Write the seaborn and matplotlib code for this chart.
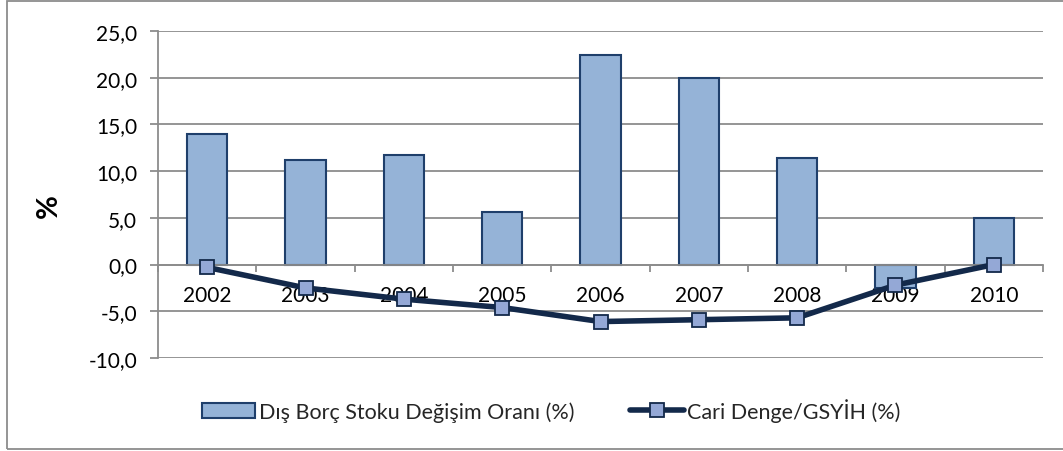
import matplotlib
matplotlib.use("Agg")
import matplotlib.pyplot as plt
import seaborn as sns
import pandas as pd
from matplotlib.patches import Rectangle
from matplotlib.ticker import FixedLocator, FuncFormatter

# ---- data ----
years = ["2002", "2003", "2004", "2005", "2006", "2007", "2008", "2009", "2010"]
debt_change = [14.0, 11.2, 11.7, 5.6, 22.4, 20.0, 11.4, -2.5, 5.0]
current_account = [-0.3, -2.5, -3.7, -4.6, -6.1, -5.9, -5.7, -2.2, 0.0]
y_ticks = [-10, -5, 0, 5, 10, 15, 20, 25]
bar_label = "Dış Borç Stoku Değişim Oranı (%)"
line_label = "Cari Denge/GSYİH (%)"
y_title = "%"

# ---- style ----
bar_fill = "#95B3D7"
bar_edge = "#1F3F6B"
line_color = "#13294A"
marker_fill = "#94A8D6"
grid_color = "#8C8C8C"
fs = 15

sns.set_theme(style="white")
plt.rcParams['font.family'] = ['Lato', 'DejaVu Sans']

W, H = 1063, 452
fig = plt.figure(figsize=(W / 100, H / 100), dpi=100)
ax_l, ax_r, ax_t, ax_b = 158, 1043, 32, 359
ax = fig.add_axes([ax_l / W, 1 - ax_b / H, (ax_r - ax_l) / W, (ax_b - ax_t) / H])

df = pd.DataFrame({"year": years, "debt": debt_change, "ca": current_account})

sns.barplot(data=df, x="year", y="debt", order=years, color=bar_fill,
            saturation=1, width=0.41, edgecolor=bar_edge, linewidth=1.5,
            ax=ax, zorder=2)
sns.pointplot(data=df, x="year", y="ca", order=years, color=line_color,
              markers="s", linestyles="-", errorbar=None, ax=ax,
              linewidth=4, markersize=10, markerfacecolor=marker_fill,
              markeredgecolor=line_color, markeredgewidth=1.3, zorder=4)

ax.set_ylim(-10, 25)
ax.set_xlim(-0.5, len(years) - 0.5)
ax.yaxis.set_major_locator(FixedLocator(y_ticks))
ax.yaxis.set_major_formatter(FuncFormatter(lambda v, p: f"{v:.1f}".replace(".", ",")))
ax.set_axisbelow(True)
ax.yaxis.grid(True, color=grid_color, linewidth=1.3)
ax.xaxis.grid(False)

for s in ["top", "right"]:
    ax.spines[s].set_visible(False)
ax.spines["left"].set_color(grid_color)
ax.spines["left"].set_linewidth(1.3)
ax.spines["bottom"].set_position(("data", 0))
ax.spines["bottom"].set_color(grid_color)
ax.spines["bottom"].set_linewidth(1.3)

ax.tick_params(axis="y", which="major", left=True, length=6, width=1.3,
               color=grid_color, direction="out", labelsize=fs, pad=9,
               labelcolor="black")
ax.set_xticks(range(len(years)))
ax.set_xticklabels(years)
ax.set_xticks([i - 0.5 for i in range(len(years) + 1)], minor=True)
ax.tick_params(axis="x", which="major", bottom=True, length=0, labelsize=fs,
               pad=15, labelcolor="black")
ax.tick_params(axis="x", which="minor", bottom=True, length=5, width=1.3,
               color=grid_color, direction="out")
ax.set_xlabel("")
ax.set_ylabel(y_title, fontsize=21, fontweight="bold", color="black")
ax.yaxis.set_label_coords((62 - ax_l) / (ax_r - ax_l), (ax_b - 206) / (ax_b - ax_t))

bar_handle = ax.containers[0].patches[0]
line_handle = ax.lines[-1]
fig.legend([bar_handle, line_handle], [bar_label, line_label],
           loc="center", bbox_to_anchor=(551 / W, 1 - 411 / H), ncol=2,
           frameon=False, fontsize=15.5, handlelength=2.5, handleheight=0.75,
           handletextpad=0.15, columnspacing=2.6, numpoints=1)

fig.add_artist(Rectangle((7 / W, 2 / H), 1.2, 448 / H, transform=fig.transFigure,
                         fill=False, edgecolor=grid_color, linewidth=1.3))

fig.savefig("out.png", dpi=100)
